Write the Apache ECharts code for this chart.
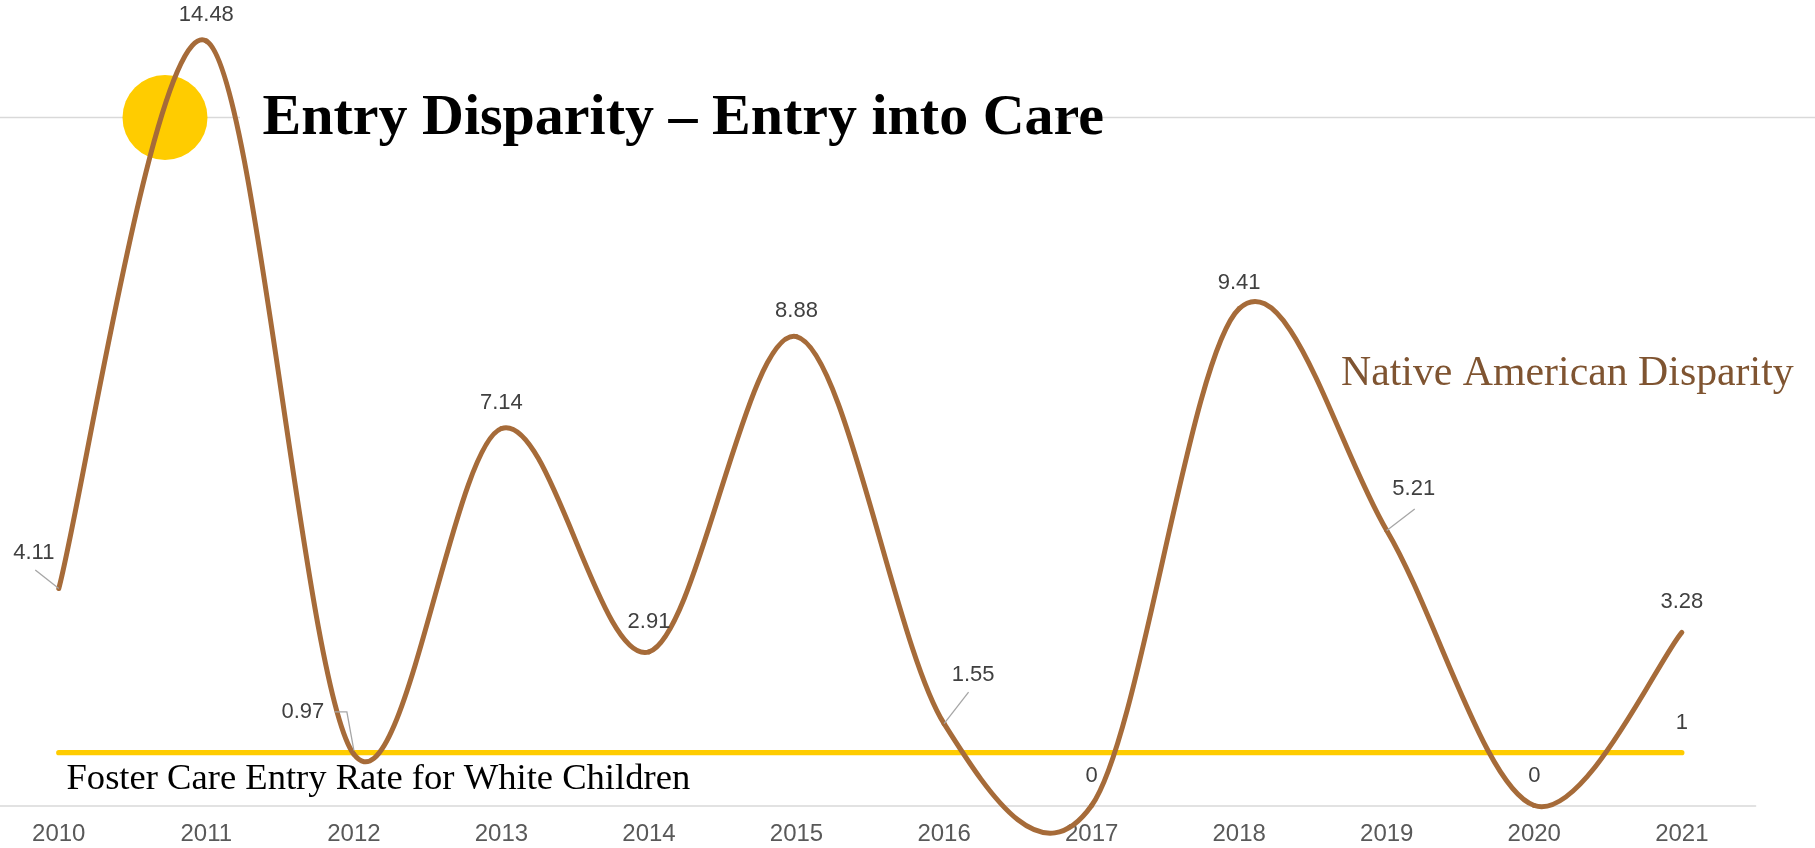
<!DOCTYPE html>
<html>
<head>
<meta charset="utf-8">
<title>Entry Disparity – Entry into Care</title>
<script src="https://cdn.jsdelivr.net/npm/echarts@6/dist/echarts.min.js"></script>
<style>
  html, body { margin: 0; padding: 0; background: #fff; }
  #chart { width: 1815px; height: 848px; }
</style>
</head>
<body>
<div id="chart"></div>
<script>
const years = ['2010', '2011', '2012', '2013', '2014', '2015', '2016', '2017', '2018', '2019', '2020', '2021'];
const nativeDisparity = [4.11, 14.48, 0.97, 7.14, 2.91, 8.88, 1.55, 0, 9.41, 5.21, 0, 3.28];
const whiteRate = [1, 1, 1, 1, 1, 1, 1, 1, 1, 1, 1, 1];

// labels pulled away from the curve: dataIndex -> [dx, dy]
const labelShift = { 0: [-25, -9.5], 2: [-51, -16], 6: [29, -22.5], 9: [27, -15] };
// leader lines for those labels, offsets from the data point in px
const leaders = {
  0: [[0, 0], [-23.5, -18.5]],
  2: [[0, -4], [-7, -42.5], [-19, -42.5]],
  6: [[0, 0], [24.5, -31.5]],
  9: [[0, 0], [28, -21.5]]
};
// labels that sit a bit higher above their point
const labelGap = { 4: 18, 7: 18, 10: 18, 11: 18 };

const BROWN = '#A66B39';
const YELLOW = '#FFCC00';
const SANS = '"Liberation Sans", Arial, sans-serif';
const SERIF = '"Liberation Serif", "Times New Roman", serif';

const chart = echarts.init(document.getElementById('chart'));

// excel style smoothing: bezier between point i-1 and i, control points from neighbours / 6
function renderSegment(params, api) {
  const i = params.dataIndex;
  if (i === 0) return null;
  const pts = nativeDisparity.map((v, k) => api.coord([k, v]));
  const p0 = pts[Math.max(i - 2, 0)];
  const p1 = pts[i - 1];
  const p2 = pts[i];
  const p3 = pts[Math.min(i + 1, pts.length - 1)];
  return {
    type: 'bezierCurve',
    shape: {
      x1: p1[0], y1: p1[1],
      x2: p2[0], y2: p2[1],
      cpx1: p1[0] + (p2[0] - p0[0]) / 6,
      cpy1: p1[1] + (p2[1] - p0[1]) / 6,
      cpx2: p2[0] - (p3[0] - p1[0]) / 6,
      cpy2: p2[1] - (p3[1] - p1[1]) / 6
    },
    style: { stroke: BROWN, lineWidth: 5, fill: 'none', lineCap: 'round' }
  };
}

function renderLeader(params, api) {
  const path = leaders[params.dataIndex];
  if (!path) return null;
  const c = api.coord([api.value(0), api.value(1)]);
  return {
    type: 'polyline',
    shape: { points: path.map(o => [c[0] + o[0], c[1] + o[1]]) },
    style: { stroke: '#A6A6A6', lineWidth: 1.3, fill: 'none' }
  };
}

const labelStyle = {
  position: 'top',
  distance: 14,
  color: '#404040',
  fontSize: 22,
  fontFamily: SANS
};

const option = {
  animation: false,
  backgroundColor: '#fff',
  grid: { left: -15, right: 59.4, top: 13.5, bottom: 42.5, outerBoundsMode: 'none' },
  xAxis: {
    type: 'category',
    data: years,
    boundaryGap: true,
    axisLine: { lineStyle: { color: '#D9D9D9', width: 1.5 } },
    axisTick: { show: false },
    axisLabel: { color: '#595959', fontSize: 24, fontFamily: SANS, margin: 17, interval: 0 },
    splitLine: { show: false }
  },
  yAxis: {
    type: 'value',
    min: 0,
    max: 15,
    show: false,
    splitLine: { show: false }
  },
  graphic: [
    { type: 'line', z: 0, shape: { x1: 0, y1: 117.5, x2: 240, y2: 117.5 }, style: { stroke: '#D9D9D9', lineWidth: 1.5 } },
    { type: 'line', z: 0, shape: { x1: 1057, y1: 117.5, x2: 1815, y2: 117.5 }, style: { stroke: '#D9D9D9', lineWidth: 1.5 } },
    { type: 'circle', z: 1, shape: { cx: 165, cy: 117.5, r: 42.5 }, style: { fill: YELLOW } },
    {
      type: 'text', z: 10, x: 262.5, y: 119,
      style: { text: 'Entry Disparity – Entry into Care', font: 'bold 58px ' + SERIF, fill: '#000', verticalAlign: 'middle' }
    },
    {
      type: 'text', z: 10, x: 1341, y: 374,
      style: { text: 'Native American Disparity', font: '41.8px ' + SERIF, fill: '#7F5431', verticalAlign: 'middle' }
    },
    {
      type: 'text', z: 10, x: 66.5, y: 779,
      style: { text: 'Foster Care Entry Rate for White Children', font: '36.6px ' + SERIF, fill: '#000', verticalAlign: 'middle' }
    }
  ],
  series: [
    {
      name: 'Foster Care Entry Rate for White Children',
      type: 'line',
      z: 1,
      silent: true,
      data: whiteRate.map((v, i) => i === whiteRate.length - 1 ? { value: v, label: { show: true } } : v),
      symbol: 'circle',
      symbolSize: 1,
      showAllSymbol: true,
      itemStyle: { color: YELLOW },
      lineStyle: { color: YELLOW, width: 5.3, cap: 'round' },
      label: Object.assign({}, labelStyle, { show: false, distance: 18 })
    },
    {
      name: 'Native American Disparity',
      type: 'custom',
      z: 3,
      silent: true,
      clip: false,
      renderItem: renderSegment,
      encode: { x: 0, y: 1 },
      data: nativeDisparity.map((v, i) => [i, v])
    },
    {
      name: 'leaders',
      type: 'custom',
      z: 5,
      silent: true,
      clip: false,
      renderItem: renderLeader,
      encode: { x: 0, y: 1 },
      data: nativeDisparity.map((v, i) => [i, v])
    },
    {
      name: 'labels',
      type: 'line',
      z: 4,
      silent: true,
      clip: false,
      data: nativeDisparity.map((v, i) => labelGap[i] ? { value: v, label: { distance: labelGap[i] } } : v),
      symbol: 'circle',
      symbolSize: 2,
      showAllSymbol: true,
      itemStyle: { color: BROWN },
      lineStyle: { width: 0, opacity: 0 },
      label: Object.assign({ show: true }, labelStyle),
      labelLayout: function (p) {
        const s = labelShift[p.dataIndex];
        return s ? { dx: s[0], dy: s[1] } : {};
      }
    }
  ]
};

chart.setOption(option);
</script>
</body>
</html>
